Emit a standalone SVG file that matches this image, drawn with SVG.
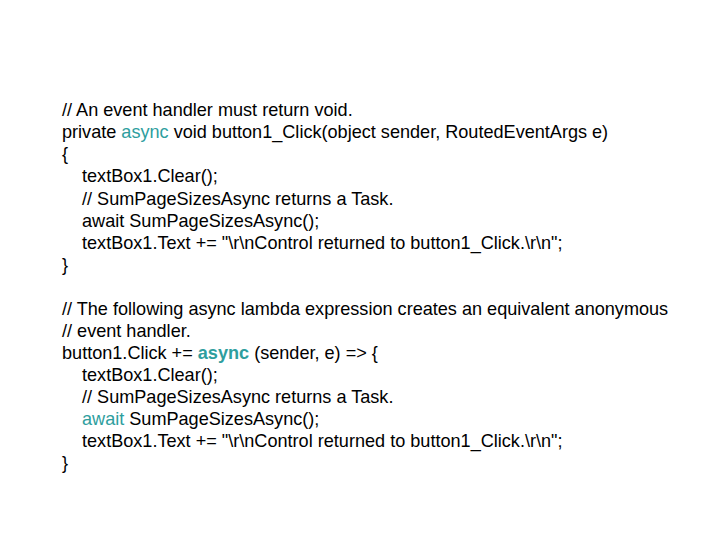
<svg xmlns="http://www.w3.org/2000/svg" width="728" height="546" viewBox="0 0 728 546">
<style>
text{font-family:"Liberation Sans",Arial,sans-serif;font-size:18.1px;fill:#000;white-space:pre}
.k{fill:#2e9e9e}
.b{font-weight:bold}
</style>
<rect width="728" height="546" fill="#fff"/>
<g id="code1">
<text x="62" y="116">// An event handler must return void.</text>
<text x="62" y="138">private <tspan class="k">async</tspan> void button1_Click(object sender, RoutedEventArgs e)</text>
<text x="62" y="160">{</text>
<text x="82" y="182">textBox1.Clear();</text>
<text x="82" y="205">// SumPageSizesAsync returns a Task.</text>
<text x="82" y="227">await SumPageSizesAsync();</text>
<text x="82" y="249">textBox1.Text += "\r\nControl returned to button1_Click.\r\n";</text>
<text x="62" y="271">}</text>
</g>
<g id="code2">
<text x="62" y="315">// The following async lambda expression creates an equivalent anonymous</text>
<text x="62" y="337">// event handler.</text>
<text x="62" y="359">button1.Click += <tspan class="k b">async</tspan> (sender, e) =&gt; {</text>
<text x="82" y="381">textBox1.Clear();</text>
<text x="82" y="403">// SumPageSizesAsync returns a Task.</text>
<text x="82" y="425"><tspan class="k">await</tspan> SumPageSizesAsync();</text>
<text x="82" y="447">textBox1.Text += "\r\nControl returned to button1_Click.\r\n";</text>
<text x="62" y="469">}</text>
</g>
</svg>
